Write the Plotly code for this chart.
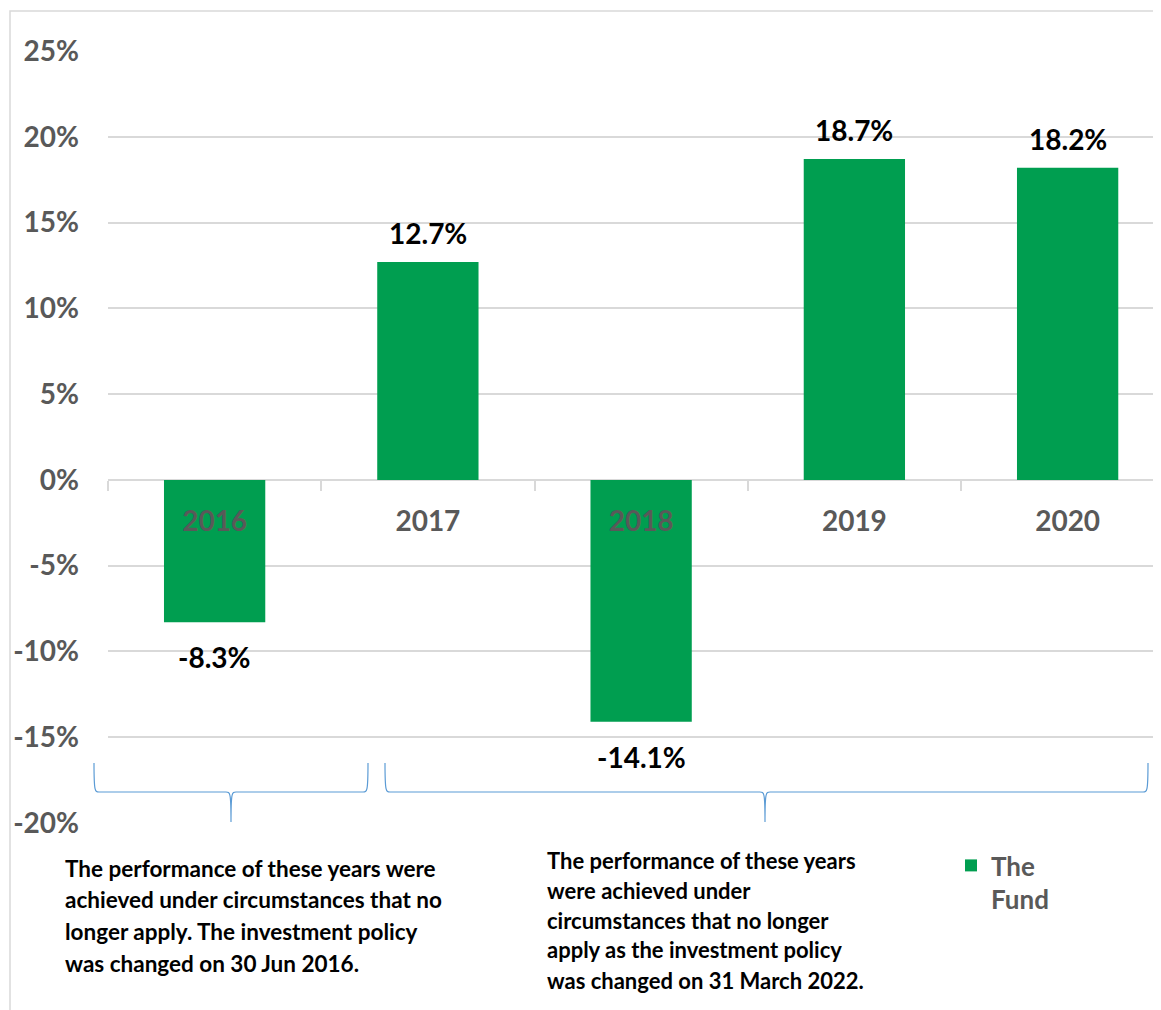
import plotly.graph_objects as go

# ---- data ----
years = ["2016", "2017", "2018", "2019", "2020"]
fund_returns = [-8.3, 12.7, -14.1, 18.7, 18.2]
series_name = "The<br>Fund"
y_ticks = [-20, -15, -10, -5, 0, 5, 10, 15, 20, 25]
note_left = [
    "The performance of these years were",
    "achieved under circumstances that no",
    "longer apply. The investment policy",
    "was changed on 30 Jun 2016.",
]
note_right = [
    "The performance of these years",
    "were achieved under",
    "circumstances that no longer",
    "apply as the investment policy",
    "was changed on 31 March 2022.",
]

# ---- layout geometry (page pixels; the page body has an 8px margin) ----
PAGE_W, PAGE_H = 1161, 1010
OFF = 8
W, H = PAGE_W - OFF, PAGE_H - OFF
PLOT_LEFT, PLOT_TOP, PLOT_BOTTOM = 108, 51, 823   # page coords
L, T = PLOT_LEFT - OFF, PLOT_TOP - OFF
R = 0
B = H - (PLOT_BOTTOM - OFF)
PW, PH = W - L - R, H - T - B
CAT_W = 213.25
GREEN = "#009E50"
GRAY = "#595959"
GRID = "#D9D9D9"
FONT = "Lato"


def px2x(px):
    return (px - OFF - L) / PW


def py2y(py):
    return (PLOT_BOTTOM - py) / PH


fig = go.Figure()
fig.add_trace(go.Bar(
    x=years, y=fund_returns, name=series_name,
    marker=dict(color=GREEN, line=dict(width=0)),
    width=0.475, showlegend=True,
))

annotations = []
for i, v in enumerate(fund_returns):
    annotations.append(dict(
        x=i, y=v, xref="x", yref="y", text=f"<b>{v:.1f}%</b>",
        showarrow=False, yanchor="middle",
        yshift=29 if v >= 0 else -35,
        font=dict(family=FONT, size=28, color="#000000"),
    ))

for i, line in enumerate(note_left):
    annotations.append(dict(
        x=px2x(63), y=py2y(868 + i * 31.7), xref="paper", yref="paper",
        text=f"<b>{line}</b>", showarrow=False, xanchor="left", yanchor="middle",
        font=dict(family=FONT, size=22.5, color="#000000"),
    ))
for i, line in enumerate(note_right):
    annotations.append(dict(
        x=px2x(545), y=py2y(860 + i * 30), xref="paper", yref="paper",
        text=f"<b>{line}</b>", showarrow=False, xanchor="left", yanchor="middle",
        font=dict(family=FONT, size=22, color="#000000"),
    ))


def brace(x0, xm, x1, ytop, ymid, ybot):
    r = 5
    X = px2x
    Y = py2y
    p = (f"M {X(x0)},{Y(ytop)} "
         f"C {X(x0)},{Y(ymid)} {X(x0+1)},{Y(ymid)} {X(x0+r)},{Y(ymid)} "
         f"L {X(xm-r)},{Y(ymid)} "
         f"C {X(xm-1)},{Y(ymid)} {X(xm)},{Y(ymid)} {X(xm)},{Y(ybot)} "
         f"C {X(xm)},{Y(ymid)} {X(xm+1)},{Y(ymid)} {X(xm+r)},{Y(ymid)} "
         f"L {X(x1-r)},{Y(ymid)} "
         f"C {X(x1-1)},{Y(ymid)} {X(x1)},{Y(ymid)} {X(x1)},{Y(ytop)}")
    return dict(type="path", path=p, xref="paper", yref="paper",
                line=dict(color="#5B9BD5", width=1.2))


shapes = [
    dict(type="rect", xref="paper", yref="paper",
         x0=px2x(10), x1=px2x(PAGE_W + 20), y0=py2y(PAGE_H + 20), y1=py2y(11),
         line=dict(color=GRID, width=1.5), fillcolor="rgba(0,0,0,0)", layer="below"),
    brace(94, 231, 368, 763, 792, 822),
    brace(385, 765, 1148, 763, 792, 822),
]

fig.update_layout(
    width=W, height=H,
    margin=dict(l=L, r=R, t=T, b=B, pad=0),
    paper_bgcolor="white", plot_bgcolor="white",
    font=dict(family=FONT, color=GRAY),
    xaxis=dict(
        type="category", range=[-0.5, -0.5 + PW / CAT_W],
        anchor="free", position=20 / 45,
        showline=False, showgrid=False, zeroline=False,
        ticks="outside", tickson="boundaries", ticklen=10,
        tickcolor=GRID, tickwidth=1.5,
        tickfont=dict(family=FONT, size=28, color=GRAY, weight="bold"),
        ticklabelstandoff=22,
    ),
    yaxis=dict(
        range=[-20, 25], tickvals=y_ticks,
        ticktext=[f"{t}%" for t in y_ticks],
        showgrid=True, gridcolor=GRID, gridwidth=1.5,
        zeroline=True, zerolinecolor=GRID, zerolinewidth=1.5,
        showline=False, ticks="",
        tickfont=dict(family=FONT, size=28, color=GRAY, weight="bold"),
        ticklabelstandoff=28,
    ),
    legend=dict(
        x=px2x(951), y=py2y(842), xanchor="left", yanchor="top",
        valign="top", bgcolor="rgba(0,0,0,0)",
        font=dict(family=FONT, size=26, color=GRAY, weight="bold"),
        itemwidth=30,
    ),
    annotations=annotations,
    shapes=shapes,
)

fig.write_html("out.html")
